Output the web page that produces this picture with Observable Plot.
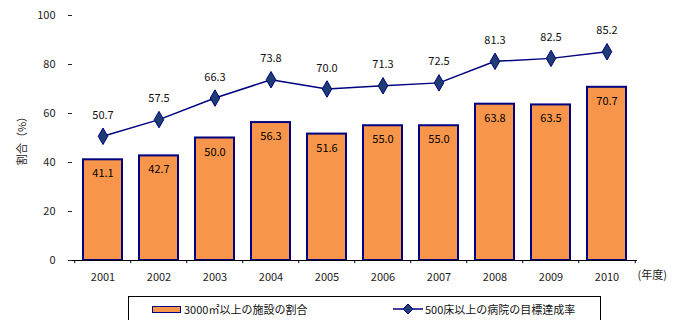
<!DOCTYPE html>
<html><head><meta charset="utf-8">
<script src="https://cdn.jsdelivr.net/npm/d3@7"></script>
<script src="https://cdn.jsdelivr.net/npm/@observablehq/plot@0.6"></script>
<style>
body{margin:0;background:#fff;font-family:"Noto Sans CJK JP","Noto Sans",sans-serif;}
#wrap{position:relative;width:677px;height:320px;overflow:hidden;}
#legend{position:absolute;left:128px;top:296px;width:473px;height:40px;border:1px solid #000;box-sizing:border-box;font-size:11px;color:#111;}
.item{position:absolute;top:4px;display:flex;align-items:center;white-space:nowrap;}
</style></head>
<body><div id="wrap"><div id="chart"></div><div id="legend"></div></div>
<script>
const years = ["2001","2002","2003","2004","2005","2006","2007","2008","2009","2010"];
const barValues = [41.1, 42.7, 50.0, 56.3, 51.6, 55.0, 55.0, 63.8, 63.5, 70.7];
const lineValues = [50.7, 57.5, 66.3, 73.8, 70.0, 71.3, 72.5, 81.3, 82.5, 85.2];
const yTicks = [0, 20, 40, 60, 80, 100];
const barLabel = "3000㎡以上の施設の割合";
const lineLabel = "500床以上の病院の目標達成率";
const yTitle = "割合（%）";
const xUnit = "(年度)";

const bars = years.map((y, i) => ({year: y, value: barValues[i]}));
const pts = years.map((y, i) => ({year: y, value: lineValues[i]}));

const W = 677, mL = 72, mR = 40;
const step = (W - mL - mR) / years.length;

const chart = Plot.plot({
  width: W, height: 292,
  marginLeft: mL, marginRight: mR, marginTop: 15, marginBottom: 32,
  style: {fontFamily: '"Noto Sans CJK JP", sans-serif', fontSize: "11px", color: "#222", background: "#fff"},
  x: {type: "band", domain: years, paddingInner: 0.31, paddingOuter: 0.155},
  y: {domain: [0, 100]},
  marks: [
    Plot.axisY({ticks: yTicks, tickSize: 4, tickPadding: 13, label: yTitle, labelAnchor: "center", labelOffset: 54, labelArrow: "none", fontSize: 11}),
    Plot.axisX({tickSize: 0, tickPadding: 13, label: null, fontSize: 11}),
    Plot.barY(bars, {x: "year", y: "value", fill: "#f7964a", stroke: "#000080", strokeWidth: 2}),
    Plot.ruleY([0], {stroke: "#000", strokeWidth: 1}),
    Plot.ruleX(years, {x: d => d, y1: 0, y2: -1.3, dx: -step / 2, stroke: "#000"}),
    Plot.ruleX(years.slice(-1), {x: d => d, y1: 0, y2: -1.3, dx: step / 2, stroke: "#000"}),
    Plot.text(bars, {x: "year", y: "value", text: d => d.value.toFixed(1), dy: 14, fill: "#000", fontSize: 11}),
    Plot.line(pts, {x: "year", y: "value", stroke: "#000080", strokeWidth: 1.5}),
    Plot.dot(pts, {x: "year", y: "value", symbol: "diamond", r: 5, fill: "#1f3d73", stroke: "#000080", strokeWidth: 1}),
    Plot.text(pts, {x: "year", y: "value", text: d => d.value.toFixed(1), dy: -21, fill: "#111", fontSize: 11}),
    Plot.text([xUnit], {frameAnchor: "bottom-right", text: d => d, textAnchor: "start", dy: 18, dx: 0, fill: "#222", fontSize: 11})
  ]
});
document.getElementById("chart").appendChild(chart);

const lg = document.getElementById("legend");
lg.innerHTML = `
<div class="item" style="left:23px"><span style="display:inline-block;width:27px;height:5px;background:#f7964a;border:1.5px solid #000080;margin-right:3px"></span>${barLabel}</div>
<div class="item" style="left:264px"><svg width="30" height="12" style="margin-right:2px"><line x1="0" y1="6" x2="30" y2="6" stroke="#000080" stroke-width="1.5"/><path d="M15,1 L20,6 L15,11 L10,6 Z" fill="#1f3d73" stroke="#000080"/></svg>${lineLabel}</div>`;
</script></body></html>
